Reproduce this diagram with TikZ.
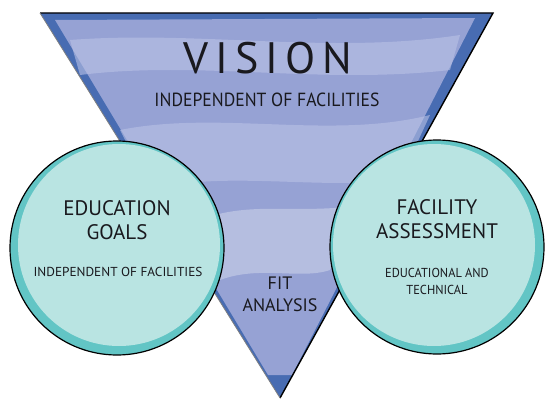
\documentclass[tikz,border=0pt]{standalone}
\usepackage{fontspec}
\setmainfont{PT Sans}
\usepackage{tikz}
\usetikzlibrary{positioning,calc}
\usepackage{xcolor}
\definecolor{visionblue}{RGB}{150,162,212}
\definecolor{visionedge}{RGB}{72,108,178}
\definecolor{visionpale}{RGB}{186,194,230}
\definecolor{goalfill}{RGB}{198,233,231}
\definecolor{goalring}{RGB}{98,197,197}
\definecolor{inkgray}{RGB}{25,25,30}

\begin{document}
\begin{tikzpicture}[
  x=1pt, y=-1pt,
  title/.style={text=inkgray, font=\fontsize{21}{23}\selectfont, align=center, inner sep=0pt},
  sub/.style={text=inkgray, font=\fontsize{13}{17}\selectfont, align=center, inner sep=0pt},
  ring/.style={fill=goalring},
  bubble/.style={fill=goalfill, fill opacity=0.88},
  rim/.style={draw=black, line width=1.2pt}
]
\useasboundingbox (0,0) rectangle (545,401);

% the triangle
\coordinate (tl) at (40,13);
\coordinate (tr) at (493,13);
\coordinate (tip) at (280,398);
\fill[visionedge] (tl) -- (tr) -- (tip) -- cycle;
\begin{scope}
  \clip (tl) -- (tr) -- (tip) -- cycle;
  \fill[visionblue] (55,20) -- (475,18) -- (292,375) -- (268,375) -- cycle;
  \fill[visionpale, opacity=0.6] (70,40) .. controls (200,30) and (330,55) .. (460,35)
     -- (450,70) .. controls (320,85) and (200,60) .. (80,75) -- cycle;
  \fill[visionpale, opacity=0.6] (120,130) .. controls (220,110) and (330,140) .. (430,115)
     -- (400,180) .. controls (320,190) and (220,170) .. (150,190) -- cycle;
  \fill[white, opacity=0.3] (200,220) .. controls (250,200) and (300,215) .. (360,205)
     -- (330,270) .. controls (300,280) and (260,265) .. (220,280) -- cycle;
\end{scope}
\draw[black, line width=1.4pt] (tl) -- (tr) -- (tip);
\draw[gray, line width=0.8pt] (tip) -- (tl);

% the two circles
\fill[ring] (117,248) circle (107);
\fill[bubble] (119,245) circle (101);
\draw[rim] (117,248) circle (107);
\fill[ring] (437,247) circle (107);
\fill[bubble] (434,245) circle (101);
\draw[rim] (437,247) circle (107);

% texts
\node[text=inkgray, font=\fontsize{44}{46}\selectfont\addfontfeatures{LetterSpace=16}, inner sep=0pt] (vision) at (268,58) {VISION};
\node[sub, font=\fontsize{19}{21}\selectfont, xscale=0.93] (visionsub) at (267,100) {INDEPENDENT OF FACILITIES};

\node[title] (educ) at (117,220) {EDUCATION\\[1pt]GOALS};
\node[sub, xscale=1.02] (educsub) at (118,272) {INDEPENDENT OF FACILITIES};

\node[title] (facil) at (437,219) {FACILITY\\[1pt]ASSESSMENT};
\node[sub, xscale=0.95] (facilsub) at (437,281) {EDUCATIONAL AND\\TECHNICAL};

\node[title, font=\fontsize{18}{22}\selectfont] (fit) at (280,294) {FIT\\ANALYSIS};
\end{tikzpicture}
\end{document}
